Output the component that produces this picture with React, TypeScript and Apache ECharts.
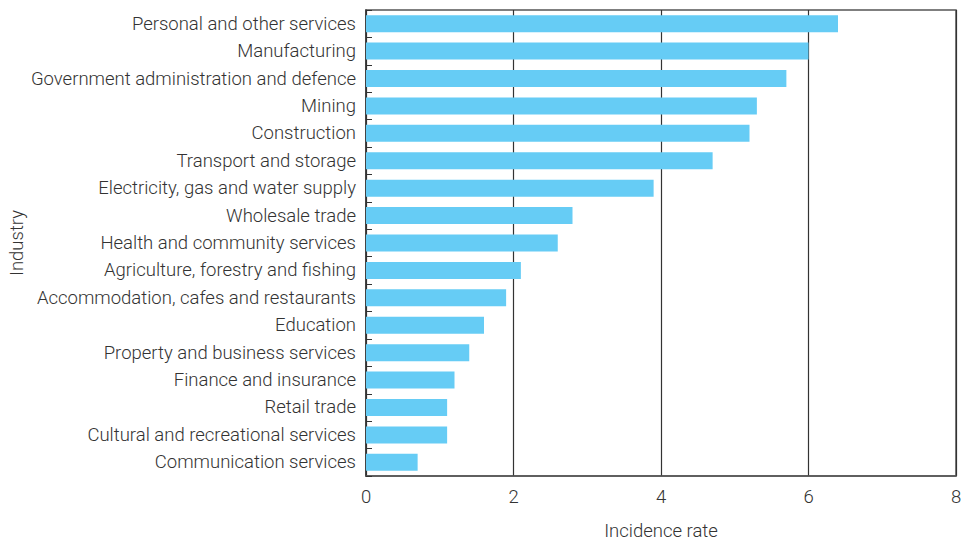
import React, { useEffect, useRef } from "react";
import * as echarts from "echarts";

const categories = [
  "Personal and other services",
  "Manufacturing",
  "Government administration and defence",
  "Mining",
  "Construction",
  "Transport and storage",
  "Electricity, gas and water supply",
  "Wholesale trade",
  "Health and community services",
  "Agriculture, forestry and fishing",
  "Accommodation, cafes and restaurants",
  "Education",
  "Property and business services",
  "Finance and insurance",
  "Retail trade",
  "Cultural and recreational services",
  "Communication services",
];
const values = [6.4, 6.0, 5.7, 5.3, 5.2, 4.7, 3.9, 2.8, 2.6, 2.1, 1.9, 1.6, 1.4, 1.2, 1.1, 1.1, 0.7];
const xTicks = { min: 0, max: 8, interval: 2 };
const xTitle = "Incidence rate";
const yTitle = "Industry";

export default function App() {
  const ref = useRef<HTMLDivElement>(null);
  useEffect(() => {
    if (!ref.current) return;
    const chart = echarts.init(ref.current, undefined, { renderer: "svg" });
    const font = "Roboto, 'Liberation Sans', sans-serif";
    const txt = { fontSize: 18.5, color: "#333", fontFamily: font, fontWeight: 300 };
    chart.setOption({
      animation: false,
      textStyle: { fontFamily: font },
      grid: {
        left: 366,
        right: 6,
        top: 10,
        bottom: 64,
        outerBoundsMode: "none",
        containLabel: false,
        show: true,
        borderColor: "#555",
        borderWidth: 1.5,
        backgroundColor: "transparent",
      },
      xAxis: {
        type: "value",
        min: xTicks.min,
        max: xTicks.max,
        interval: xTicks.interval,
        name: xTitle,
        nameLocation: "middle",
        nameGap: 45,
        nameMoveOverlap: false,
        nameTextStyle: txt,
        axisLine: { show: true, lineStyle: { color: "#555", width: 1.5 } },
        axisTick: { show: false },
        axisLabel: { ...txt, margin: 11 },
        splitLine: { show: true, lineStyle: { color: "#333", width: 1.2 } },
      },
      yAxis: {
        type: "category",
        data: categories,
        inverse: true,
        name: yTitle,
        nameLocation: "middle",
        nameGap: 340,
        nameMoveOverlap: false,
        nameRotate: 90,
        nameTextStyle: txt,
        axisLine: { show: true, lineStyle: { color: "#333", width: 1.5 } },
        axisTick: { show: true, inside: true, length: 6, lineStyle: { color: "#333" } },
        axisLabel: { ...txt, margin: 10 },
        splitLine: { show: false },
      },
      series: [
        {
          type: "bar",
          data: values,
          barWidth: "62%",
          itemStyle: { color: "#66CCF5" },
          silent: true,
        },
      ],
    });
    return () => chart.dispose();
  }, []);
  return <div ref={ref} style={{ width: 962, height: 540, position: "absolute", left: 0, top: 0 }} />;
}
